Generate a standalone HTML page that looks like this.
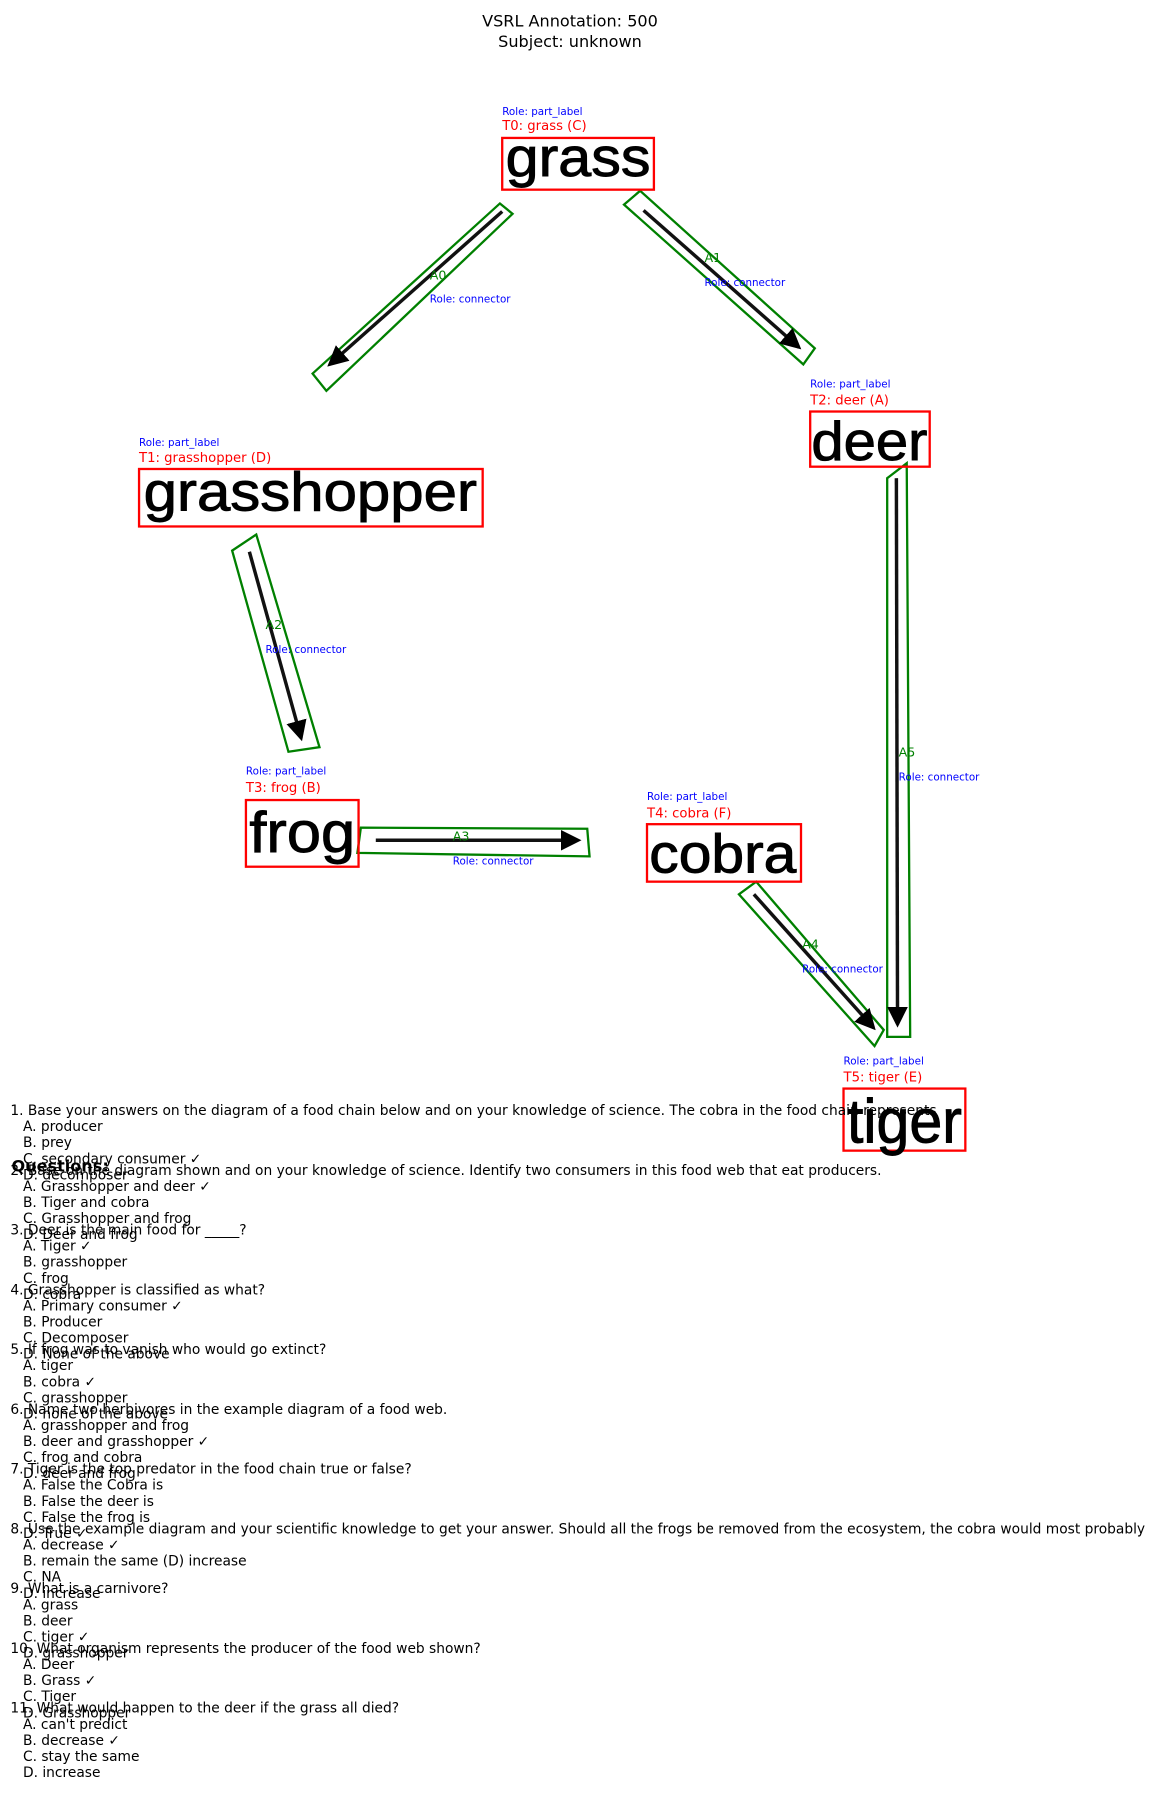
<!DOCTYPE html>
<html><head><meta charset="utf-8"><style>html,body{margin:0;padding:0;background:#fff}svg{display:block}</style></head>
<body>
<svg width="1163" height="1807" viewBox="0 0 1012 1572" preserveAspectRatio="none" xmlns="http://www.w3.org/2000/svg" font-family="'DejaVu Sans','Liberation Sans',sans-serif">
<defs><marker id="ah" markerWidth="6" markerHeight="6" refX="5" refY="3" orient="auto" markerUnits="strokeWidth"><path d="M0,0 L6,3 L0,6 z" fill="#000"/></marker></defs>
<g transform="translate(2,3)">
<g font-size="14" text-anchor="middle" fill="#000"><text x="494" y="20">VSRL Annotation: 500</text><text x="494" y="38">Subject: unknown</text></g>
<g fill="none" stroke="#008000" stroke-width="2">
<polygon points="433,174 444,183 282,337 270,322"/>
<polygon points="541,175 555,163 707,300 697,314"/>
<polygon points="200,476 221,462 276,647 249,651"/>
<polygon points="312,717 509,718 511,742 309,739"/>
<polygon points="641,775 656,764 767,893 759,907"/>
<polygon points="770,413 787,400 790,899 770,899"/>
</g>
<g stroke="#111" stroke-width="3" marker-end="url(#ah)">
<line x1="435" y1="181" x2="285" y2="314"/>
<line x1="558" y1="180" x2="693" y2="299"/>
<line x1="215" y1="477" x2="260" y2="639"/>
<line x1="325" y1="728" x2="501" y2="728"/>
<line x1="654" y1="775" x2="758" y2="891"/>
<line x1="778" y1="413" x2="779" y2="888"/>
</g>
<g font-size="11" fill="#008000"><text x="372" y="240">A0</text><text x="611" y="225">A1</text><text x="229" y="544">A2</text><text x="392" y="728">A3</text><text x="696" y="822">A4</text><text x="780" y="655">A5</text></g>
<g font-size="9" fill="#0000ff"><text x="372" y="260">Role: connector</text><text x="611" y="246">Role: connector</text><text x="229" y="565">Role: connector</text><text x="392" y="749">Role: connector</text><text x="696" y="843">Role: connector</text><text x="780" y="676">Role: connector</text>
<text x="435" y="97">Role: part_label</text><text x="703" y="334">Role: part_label</text><text x="119" y="385">Role: part_label</text><text x="212" y="671">Role: part_label</text><text x="561" y="693">Role: part_label</text><text x="732" y="923">Role: part_label</text></g>
<g font-size="11.5" fill="#ff0000"><text x="435" y="110">T0: grass (C)</text><text x="703" y="349">T2: deer (A)</text><text x="119" y="399">T1: grasshopper (D)</text><text x="212" y="686">T3: frog (B)</text><text x="561" y="708">T4: cobra (F)</text><text x="732" y="938">T5: tiger (E)</text></g>
<g fill="none" stroke="#ff0000" stroke-width="2">
<rect x="435" y="117" width="132" height="45"/><rect x="703" y="355" width="104" height="48"/><rect x="119" y="405" width="299" height="50"/><rect x="212" y="693" width="98" height="58"/><rect x="561" y="714" width="134" height="50"/><rect x="732" y="944" width="106" height="54"/></g>
<g font-family="'Liberation Sans',sans-serif" fill="#000" stroke="#000" stroke-width="0.8">
<text x="438" y="150" font-size="48" textLength="126" lengthAdjust="spacingAndGlyphs">grass</text>
<text x="704" y="397" font-size="48" textLength="101" lengthAdjust="spacingAndGlyphs">deer</text>
<text x="123" y="441" font-size="48" textLength="290" lengthAdjust="spacingAndGlyphs">grasshopper</text>
<text x="215" y="738" font-size="50" textLength="92" lengthAdjust="spacingAndGlyphs">frog</text>
<text x="563" y="756" font-size="48" textLength="128" lengthAdjust="spacingAndGlyphs">cobra</text>
<text x="735" y="991" font-size="54" textLength="100" lengthAdjust="spacingAndGlyphs">tiger</text>
</g>
<text x="8" y="1016" font-size="14" font-weight="bold">Questions:</text>
<g font-size="12" fill="#000">
<text x="7" y="967">1. Base your answers on the diagram of a food chain below and on your knowledge of science. The cobra in the food chain represents</text>
<text x="18" y="981">A. producer</text><text x="18" y="995">B. prey</text><text x="18" y="1009">C. secondary consumer ✓</text><text x="18" y="1023">D. decomposer</text>
<text x="7" y="1019">2. Base on the diagram shown and on your knowledge of science. Identify two consumers in this food web that eat producers.</text>
<text x="18" y="1033">A. Grasshopper and deer ✓</text><text x="18" y="1047">B. Tiger and cobra</text><text x="18" y="1061">C. Grasshopper and frog</text><text x="18" y="1075">D. Deer and frog</text>
<text x="7" y="1071">3. Deer is the main food for _____?</text>
<text x="18" y="1085">A. Tiger ✓</text><text x="18" y="1099">B. grasshopper</text><text x="18" y="1113">C. frog</text><text x="18" y="1127">D. cobra</text>
<text x="7" y="1123">4. Grasshopper is classified as what?</text>
<text x="18" y="1137">A. Primary consumer ✓</text><text x="18" y="1151">B. Producer</text><text x="18" y="1165">C. Decomposer</text><text x="18" y="1179">D. None of the above</text>
<text x="7" y="1175">5. If frog was to vanish who would go extinct?</text>
<text x="18" y="1189">A. tiger</text><text x="18" y="1203">B. cobra ✓</text><text x="18" y="1217">C. grasshopper</text><text x="18" y="1231">D. none of the above</text>
<text x="7" y="1227">6. Name two herbivores in the example diagram of a food web.</text>
<text x="18" y="1241">A. grasshopper and frog</text><text x="18" y="1255">B. deer and grasshopper ✓</text><text x="18" y="1269">C. frog and cobra</text><text x="18" y="1283">D. deer and frog</text>
<text x="7" y="1279">7. Tiger is the top predator in the food chain true or false?</text>
<text x="18" y="1293">A. False the Cobra is</text><text x="18" y="1307">B. False the deer is</text><text x="18" y="1321">C. False the frog is</text><text x="18" y="1335">D. True ✓</text>
<text x="7" y="1331">8. Use the example diagram and your scientific knowledge to get your answer. Should all the frogs be removed from the ecosystem, the cobra would most probably</text>
<text x="18" y="1345">A. decrease ✓</text><text x="18" y="1359">B. remain the same (D) increase</text><text x="18" y="1373">C. NA</text><text x="18" y="1387">D. increase</text>
<text x="7" y="1383">9. What is a carnivore?</text>
<text x="18" y="1397">A. grass</text><text x="18" y="1411">B. deer</text><text x="18" y="1425">C. tiger ✓</text><text x="18" y="1439">D. grasshopper</text>
<text x="7" y="1435">10. What organism represents the producer of the food web shown?</text>
<text x="18" y="1449">A. Deer</text><text x="18" y="1463">B. Grass ✓</text><text x="18" y="1477">C. Tiger</text><text x="18" y="1491">D. Grasshopper</text>
<text x="7" y="1487">11. What would happen to the deer if the grass all died?</text>
<text x="18" y="1501">A. can't predict</text><text x="18" y="1515">B. decrease ✓</text><text x="18" y="1529">C. stay the same</text><text x="18" y="1543">D. increase</text>
</g>
</g>
</svg>
</body></html>
